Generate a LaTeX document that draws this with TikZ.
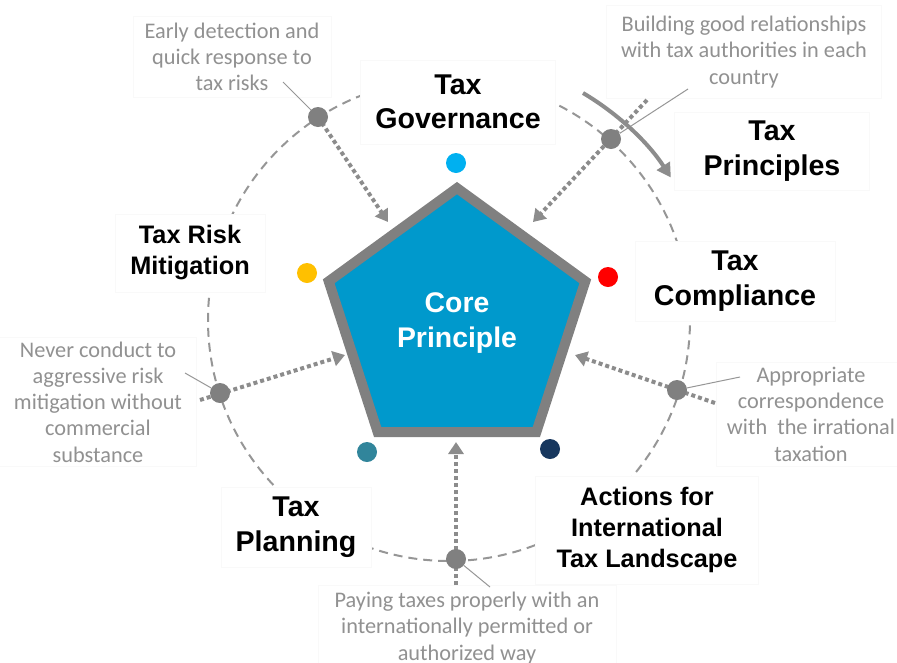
\documentclass[tikz,border=0pt]{standalone}
\usepackage{fontspec}
\setmainfont{Liberation Sans}
\newfontfamily\descfont{Carlito}
\usetikzlibrary{shapes.geometric,arrows.meta}
\definecolor{coreblue}{RGB}{0,153,204}
\definecolor{coregray}{RGB}{128,128,128}
\definecolor{dotgray}{RGB}{128,128,128}
\definecolor{arrgray}{RGB}{140,140,140}
\definecolor{circgray}{RGB}{150,150,150}
\definecolor{desctext}{RGB}{145,145,145}
\definecolor{linegray}{RGB}{150,150,150}
\definecolor{boxline}{RGB}{249,249,249}
\definecolor{ctop}{RGB}{0,176,240}
\definecolor{cred}{RGB}{255,0,0}
\definecolor{cyellow}{RGB}{255,192,0}
\definecolor{cteal}{RGB}{49,133,155}
\definecolor{cnavy}{RGB}{23,55,94}
\begin{document}
\begin{tikzpicture}[x=1pt,y=1pt,
  lbl/.style={font=\bfseries\fontsize{28.6}{34.5}\selectfont, align=center, fill=white, draw=boxline, line width=0.5pt, inner sep=0pt},
  lblsmall/.style={lbl, font=\bfseries\fontsize{25.3}{31}\selectfont},
  desc/.style={font=\descfont\fontsize{22.3}{26.3}\selectfont, text=desctext, align=center, fill=white, draw=boxline, line width=0.5pt, inner sep=0pt},
  gdot/.style={circle, fill=dotgray, minimum size=20pt, inner sep=0pt},
  cdot/.style={circle, minimum size=20pt, inner sep=0pt},
  darrow/.style={draw=arrgray, line width=4pt, dash pattern=on 4pt off 3pt, -{Triangle[length=12pt,width=15pt]}},
  curv/.style={draw=arrgray, line width=4pt, -{Triangle[length=14pt,width=15pt]}},
  circ/.style={draw=circgray, line width=2pt, dash pattern=on 9pt off 6pt},
  leader/.style={draw=linegray, line width=1pt},
  pent/.style={regular polygon, regular polygon sides=5, minimum size=269.8pt, inner sep=0pt, fill=coreblue, draw=coregray, line width=10pt, line join=miter, text=white, font=\bfseries\fontsize{28.4}{35}\selectfont, align=center}]
\useasboundingbox (0,0) rectangle (897,-662);
% dashed ring
\draw[circ] (449,-320) circle[radius=241pt];
% label boxes
\node[lbl, minimum width=195pt, minimum height=84pt] (gov) at (458,-102) {Tax\\Governance};
\node[lbl, minimum width=195pt, minimum height=78pt] (princ) at (772,-151) {Tax\\Principles};
\node[lbl, minimum width=200pt, minimum height=80pt] (compl) at (735,-281) {Tax\\Compliance};
\node[lblsmall, minimum width=150pt, minimum height=78pt] (risk) at (190,-253) {Tax Risk\\Mitigation};
\node[lbl, minimum width=150pt, minimum height=80pt] (plan) at (296,-527) {Tax\\Planning};
\node[lblsmall, minimum width=223pt, minimum height=108pt] (act) at (647,-530) {Actions for\\International\\Tax Landscape};
% descriptions
\node[desc, minimum width=198pt, minimum height=81pt] (d1) at (232,-57) {Early detection and\\quick response to\\tax risks};
\node[desc, minimum width=275pt, minimum height=93pt] (d2) at (744,-52) {Building good relationships\\with tax authorities in each\\country};
\node[desc, minimum width=197pt, minimum height=129pt] (d3) at (98,-402) {Never conduct to\\aggressive risk\\mitigation without\\commercial\\substance};
\node[desc, minimum width=190pt, minimum height=104pt] (d4) at (811,-414) {Appropriate\\correspondence\\with\ \ the irrational\\taxation};
\node[desc, minimum width=298pt, minimum height=86pt] (d5) at (467,-628) {Paying taxes properly with an\\internationally permitted or\\authorized way};
% core pentagon
\node[pent] (core) at (457,-323) {Core\\Principle};
% coloured dots
\node[cdot, fill=ctop] (ctopdot) at (456,-163) {};
\node[cdot, fill=cred] (creddot) at (608,-277) {};
\node[cdot, fill=cyellow] (cyeldot) at (307,-273) {};
\node[cdot, fill=cteal] (ctealdot) at (367,-452) {};
\node[cdot, fill=cnavy] (cnavydot) at (550,-449) {};
% dot positions
\coordinate (p1) at (318,-117);
\coordinate (p2) at (611,-139);
\coordinate (p3) at (220,-393);
\coordinate (p4) at (677,-390);
\coordinate (p5) at (456,-559);
% arrow ends
\coordinate (t1) at (388,-222);
\coordinate (s2) at (647,-100); \coordinate (t2) at (533,-222);
\coordinate (s3) at (200,-400); \coordinate (t3) at (345,-355);
\coordinate (s4) at (715,-403); \coordinate (t4) at (575,-355);
\coordinate (s5) at (456,-585); \coordinate (t5) at (456,-442);
\draw[darrow] (p1) -- (t1);
\draw[darrow] (s2) -- (t2);
\draw[darrow] (s3) -- (t3);
\draw[darrow] (s4) -- (t4);
\draw[darrow] (s5) -- (t5);
% gray dots
\node[gdot] (g1) at (p1) {};
\node[gdot] (g2) at (p2) {};
\node[gdot] (g3) at (p3) {};
\node[gdot] (g4) at (p4) {};
\node[gdot] (g5) at (p5) {};
% leader lines
\coordinate (c1) at (283,-82);
\coordinate (c2) at (688,-89);
\coordinate (c3) at (185,-373);
\coordinate (c4) at (740,-377);
\coordinate (c5) at (490,-587);
\draw[leader] (c1) -- (g1);
\draw[leader] (c2) -- (g2);
\draw[leader] (c3) -- (g3);
\draw[leader] (c4) -- (g4);
\draw[leader] (c5) -- (g5);
% curved arrow
\draw[curv] (583,-93) arc[start angle=59.4, end angle=32.8, radius=265pt];
\end{tikzpicture}
\end{document}
